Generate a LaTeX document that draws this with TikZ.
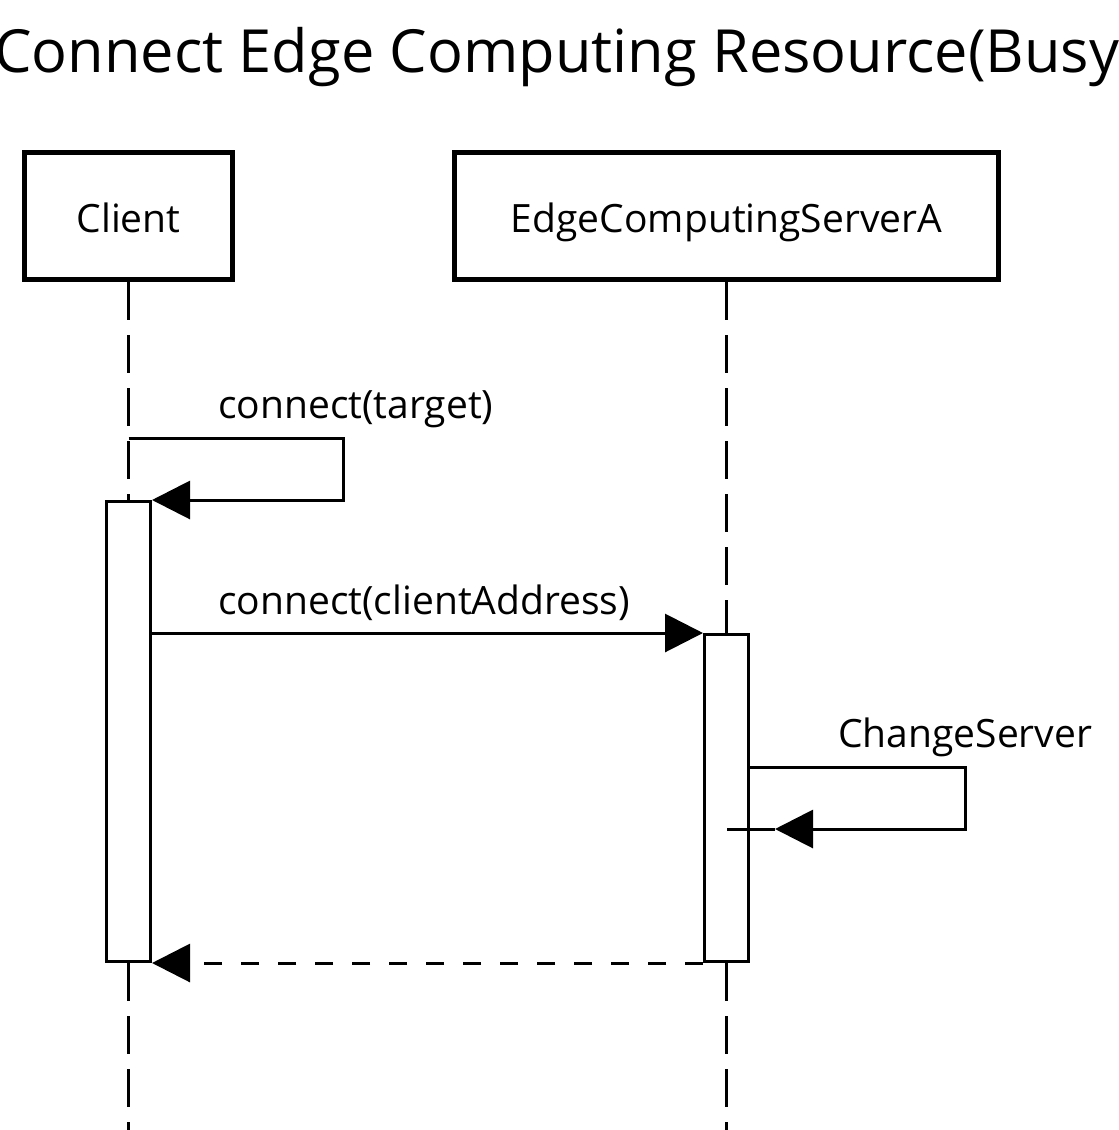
\documentclass[tikz,border=0pt]{standalone}
\usepackage{fontspec}
\setmainfont{Open Sans}
\usepackage{tikz}
\usetikzlibrary{arrows.meta, positioning}

\begin{document}
\begin{tikzpicture}[x=1pt, y=-1pt,
    actor/.style={draw, line width=5pt, fill=white, text height=32pt, text depth=0pt, font=\fontsize{39}{46}\selectfont},
    lifeline/.style={line width=3pt, dash pattern=on 38pt off 15pt},
    bar/.style={draw, line width=3pt, fill=white, minimum width=44pt, inner sep=0pt},
    msg/.style={line width=3pt, -{Triangle[length=38pt, width=38pt]}},
    reply/.style={msg, dash pattern=on 18pt off 19pt},
    lbl/.style={inner sep=0pt, font=\fontsize{39}{46}\selectfont},
    titletext/.style={inner sep=0pt, font=\fontsize{59.5}{68}\selectfont}]
              \useasboundingbox (0,0) rectangle (1119,1130);
              \clip (0,0) rectangle (1119,1130);
              \node [titletext, anchor=base west] (title) at (-6,72) {Connect Edge Computing Resource(Busy)};
              \node [actor, minimum width=208pt, minimum height=127pt] (client) at (128.5,216) {Client};
              \node [actor, minimum width=544pt, minimum height=127pt] (server) at (726.5,216) {EdgeComputingServerA};
              \node [bar, minimum height=460pt] (cbar) at (128.5,731.5) {};
              \node [bar, minimum height=327pt] (sbar) at (726.5,798) {};
              \coordinate (clientend) at (128.5,1140);
              \coordinate (serverend) at (726.5,1140);
              \draw [lifeline] (client.south) -- (cbar.north);
              \draw [lifeline] (cbar.south) -- (clientend);
              \draw [lifeline] (server.south) -- (sbar.north);
              \draw [lifeline] (sbar.south) -- (serverend);
              \coordinate (selfa) at (128.5,438);
              \coordinate (selfb) at (343,438);
              \draw [msg] (selfa) -- (selfb) |- (cbar.north east);
              \node [lbl, anchor=base west] (lbltarget) at (218,418) {connect(target)};
              \draw [msg] (cbar.east |- 0,633) -- (sbar.north west);
              \node [lbl, anchor=base west] (lbladdress) at (218,614) {connect(clientAddress)};
              \coordinate (changea) at (965,767);
              \coordinate (changeb) at (775,829);
              \coordinate (changec) at (727,829);
              \draw [msg] (sbar.east |- changea) -- (changea) |- (changeb);
              \draw [line width=3pt] (changeb) -- (changec);
              \node [lbl, anchor=base west] (lblchange) at (838,747) {ChangeServer};
              \draw [reply] (sbar.south west) -- (cbar.south east);
\end{tikzpicture}
\end{document}
